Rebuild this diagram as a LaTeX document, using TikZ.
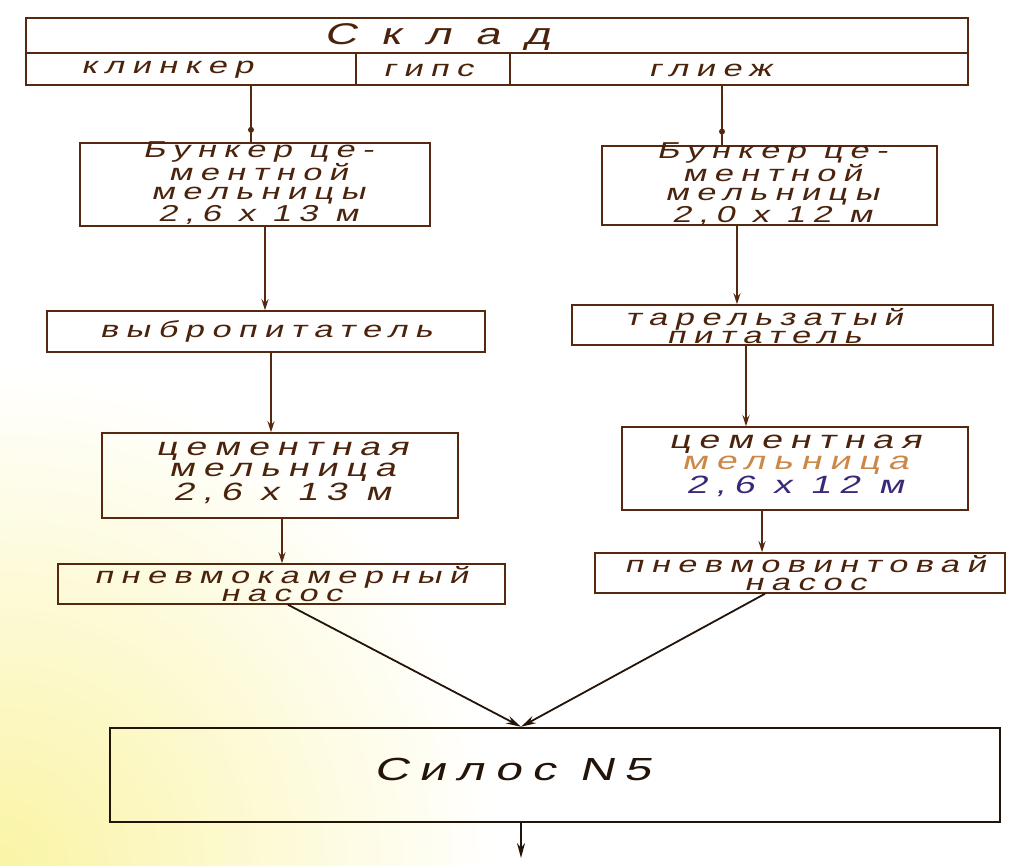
\documentclass[tikz,border=0pt]{standalone}
\usepackage{fontspec}
\usetikzlibrary{arrows.meta}
\setmainfont{Liberation Sans}
\newfontfamily\hwf{Liberation Sans}[FakeSlant=0.25,FakeStretch=1.5,LetterSpace=32]
\newfontfamily\hwwide{Liberation Sans}[FakeSlant=0.25,FakeStretch=1.5,LetterSpace=80]
\newcommand\hw{\hwf\fontsize{23}{19}\selectfont}
\newcommand\hwtight{\hwf\fontsize{23}{17.5}\selectfont}
\newcommand\hwmill{\hwf\fontsize{25}{21}\selectfont}
\newcommand\hwbig{\hwwide\fontsize{30}{30}\selectfont}
\definecolor{ink}{RGB}{85,40,15}
\definecolor{txt}{RGB}{75,35,12}
\definecolor{dark}{RGB}{35,20,10}
\definecolor{faded}{RGB}{205,135,70}
\definecolor{blueink}{RGB}{60,40,120}
\definecolor{paperyellow}{RGB}{250,244,165}
\begin{document}
\begin{tikzpicture}[x=1pt,y=-1pt,
  box/.style={draw=ink, line width=1.5pt, inner sep=0pt, text=txt, align=center, font=\hw},
  lbl/.style={text=txt, font=\hw, inner sep=0pt, align=center},
  conn/.style={draw=ink, line width=1.1pt},
  arr/.style={conn, -{Stealth[length=11pt,width=7pt]}},
  bigarr/.style={draw=dark, line width=1.8pt, -{Stealth[length=15pt,width=8pt]}},
  dotnode/.style={circle, fill=ink, inner sep=0pt, minimum size=6pt}]
\useasboundingbox (0,0) rectangle (1016,866);
\fill[white] (0,0) rectangle (1016,866);
\begin{scope}
\clip (0,0) rectangle (1016,866);
\shade[inner color=paperyellow, outer color=white] (0,866) circle (500);
\end{scope}

% store
\node[box, minimum width=942pt, minimum height=35pt] (skl) at (497,35.5) {};
\node[box, minimum width=330pt, minimum height=32pt] (klin) at (191,69) {};
\node[box, minimum width=154pt, minimum height=32pt] (gips) at (433,69) {};
\node[box, minimum width=458pt, minimum height=32pt] (glie) at (739,69) {};
\node[lbl, font=\hwbig] (sklt) at (437,37) {Склад};
\node[lbl, font=\hwtight] (klint) at (167,70) {клинкер};
\node[lbl, font=\hwtight] (gipst) at (428,70) {гипс};
\node[lbl, font=\hwtight] (gliet) at (710,70) {глиеж};

% bunkers
\node[box, minimum width=350pt, minimum height=83pt] (b1) at (255,184.5) {};
\node[lbl] (b1t) at (258,183) {Бункер це-\\ментной\\мельницы\\2,6 x 13 м};
\node[box, minimum width=335pt, minimum height=79pt] (b2) at (769.5,185.5) {};
\node[lbl] (b2t) at (772,184) {Бункер це-\\ментной\\мельницы\\2,0 x 12 м};

% feeders
\node[box, minimum width=438pt, minimum height=41pt] (f1) at (266,331.5) {выбропитатель};
\node[box, minimum width=421pt, minimum height=40pt] (f2) at (782.5,325) {};
\node[lbl, font=\hwtight] (f2t) at (764,326) {тарельзатый\\питатель};

% mills
\node[box, minimum width=356pt, minimum height=85pt] (m1) at (280,475.5) {};
\node[lbl, font=\hwmill] (m1t) at (282,473) {цементная\\мельница\\2,6 x 13 м};
\node[box, minimum width=346pt, minimum height=83pt] (m2) at (795,468.5) {};
\node[lbl, font=\hwmill] (m2t) at (795,466) {цементная\\{\color{faded}мельница}\\{\color{blueink}2,6 x 12 м}};

% pumps
\node[box, minimum width=447pt, minimum height=40pt] (p1) at (281.5,584) {};
\node[lbl, font=\hwtight] (p1t) at (281,584) {пневмокамерный\\насос};
\node[box, minimum width=410pt, minimum height=40pt] (p2) at (800,573) {};
\node[lbl, font=\hwtight] (p2t) at (805,573) {пневмовинтовай\\насос};

% silo
\node[box, draw=dark, line width=2.4pt, minimum width=890pt, minimum height=94pt] (silo) at (555,775) {};
\node[lbl, text=dark, font=\hwf\fontsize{32}{32}\selectfont] (silot) at (512,769) {Силос N5};

% connector x positions
\coordinate (c1) at (251,0);
\coordinate (c2) at (722,0);
\coordinate (c3) at (265,0);
\coordinate (c4) at (737,0);
\coordinate (c5) at (271,0);
\coordinate (c6) at (746,0);
\coordinate (c7) at (282,0);
\coordinate (c8) at (762,0);
\coordinate (s1) at (288,0);
\coordinate (s2) at (765,0);
\coordinate (sin) at (521,0);
\coordinate (out) at (521,858);

\draw[conn] (klin.south -| c1) -- (b1.north -| c1) node[dotnode, pos=0.78] (d1) {};
\draw[conn] (glie.south -| c2) -- (b2.north -| c2) node[dotnode, pos=0.77] (d2) {};
\draw[arr] (b1.south -| c3) -- (f1.north -| c3);
\draw[arr] (b2.south -| c4) -- (f2.north -| c4);
\draw[arr] (f1.south -| c5) -- (m1.north -| c5);
\draw[arr] (f2.south -| c6) -- (m2.north -| c6);
\draw[arr] (m1.south -| c7) -- (p1.north -| c7);
\draw[arr] (m2.south -| c8) -- (p2.north -| c8);
\draw[bigarr] (p1.south -| s1) -- (silo.north -| sin);
\draw[bigarr] (p2.south -| s2) -- (silo.north -| sin);
\draw[bigarr] (silo.south -| sin) -- (out);
\end{tikzpicture}
\end{document}
